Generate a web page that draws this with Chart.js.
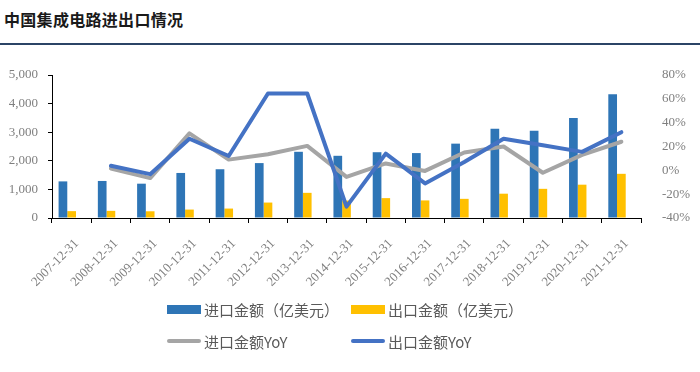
<!DOCTYPE html>
<html>
<head>
<meta charset="utf-8">
<script src="https://cdn.jsdelivr.net/npm/chart.js@4/dist/chart.umd.min.js"></script>
<style>
  body { margin: 0; background: #fff; }
  #wrap { position: relative; width: 700px; height: 372px; overflow: hidden; }
  #title { position: absolute; left: 4px; top: 7px; font: bold 16px "Noto Sans CJK SC", sans-serif; color: #1a1a1a; letter-spacing: 0.3px; }
  #rule { position: absolute; left: 0; top: 43px; width: 700px; height: 2px; background: #2b4466; }
  #chart { position: absolute; left: 0; top: 0; }
  .legend { position: absolute; display: grid; grid-template-columns: 184px auto; row-gap: 14px; left: 167px; top: 300px; font: 15px "Noto Sans CJK SC", sans-serif; color: #595959; }
  .item { display: flex; align-items: center; height: 18px; white-space: nowrap; }
  .sw { width: 34px; margin-right: 3px; }
</style>
</head>
<body>
<div id="wrap">
  <div id="title">中国集成电路进出口情况</div>
  <div id="rule"></div>
  <canvas id="chart" width="700" height="372"></canvas>
  <div class="legend" id="legend"></div>
</div>
<script>
// 数据（亿美元 / %）
const years = ["2007-12-31", "2008-12-31", "2009-12-31", "2010-12-31", "2011-12-31", "2012-12-31", "2013-12-31", "2014-12-31", "2015-12-31", "2016-12-31", "2017-12-31", "2018-12-31", "2019-12-31", "2020-12-31", "2021-12-31"];
const importAmt = [1280, 1295, 1200, 1575, 1705, 1920, 2315, 2175, 2300, 2270, 2600, 3120, 3055, 3500, 4330];
const exportAmt = [240, 250, 235, 295, 330, 540, 880, 610, 695, 615, 670, 850, 1020, 1165, 1545];
const importYoY = [null, 1.5, -6.5, 31, 9, 13.5, 20.5, -5.5, 5.8, -0.5, 15, 20, -2, 13, 24];
const exportYoY = [null, 3.8, -3.2, 26.5, 12, 64.5, 64.5, -30.5, 14, -11, 7, 26.5, 21, 15.5, 32];
const leftTicks = { min: 0, max: 5000, step: 1000 };
const rightTicks = { min: -40, max: 80, step: 20 };

const tickFont = { family: "'Liberation Serif', serif", size: 13 };
const tickColor = '#7f7f7f';

const chart = new Chart(document.getElementById('chart'), {
  type: 'bar',
  data: {
    labels: years,
    datasets: [
      { type: 'line', label: '出口金额YoY', data: exportYoY, yAxisID: 'y1', borderColor: '#4472C4', borderWidth: 4, pointRadius: 0, tension: 0, borderJoinStyle: 'round', borderCapStyle: 'round', order: 0 },
      { type: 'line', label: '进口金额YoY', data: importYoY, yAxisID: 'y1', borderColor: '#A5A5A5', borderWidth: 4, pointRadius: 0, tension: 0, borderJoinStyle: 'round', borderCapStyle: 'round', order: 1 },
      { label: '进口金额（亿美元）', data: importAmt, yAxisID: 'y', backgroundColor: '#2E75B6', order: 2 },
      { label: '出口金额（亿美元）', data: exportAmt, yAxisID: 'y', backgroundColor: '#FFC000', order: 2 },
      // empty slot, like the hidden series in the original workbook
      { label: '', data: [], yAxisID: 'y', backgroundColor: 'rgba(0,0,0,0)', order: 2 }
    ]
  },
  options: {
    responsive: false,
    animation: false,
    layout: { padding: { top: 75, left: 0, right: 0, bottom: 70 } },
    datasets: { bar: { categoryPercentage: 0.665, barPercentage: 1 } },
    plugins: { legend: { display: false }, tooltip: { enabled: false } },
    scales: {
      x: {
        offset: true,
        grid: { offset: true, drawOnChartArea: false, tickLength: 5, color: '#000' },
        border: { color: '#000' },
        ticks: { font: tickFont, color: tickColor, maxRotation: 45, minRotation: 45, autoSkip: false, padding: 13, labelOffset: 5 },
        afterFit: s => { s.height = 84; }
      },
      y: {
        position: 'left',
        min: leftTicks.min, max: leftTicks.max,
        grid: { drawOnChartArea: false, tickLength: 4, color: '#000' },
        border: { color: '#000' },
        ticks: { stepSize: leftTicks.step, font: tickFont, color: tickColor, padding: 10,
          callback: v => v.toLocaleString('en-US') },
        afterFit: s => { s.width = 52; }
      },
      y1: {
        position: 'right',
        min: rightTicks.min, max: rightTicks.max,
        grid: { display: false },
        border: { display: false },
        ticks: { stepSize: rightTicks.step, font: tickFont, color: tickColor, padding: 13,
          callback: v => v + '%' },
        afterFit: s => { s.width = 59; }
      }
    }
  }
});

// legend in two rows, same grid as the original
const legendItems = [
  { text: '进口金额（亿美元）', color: '#2E75B6', kind: 'box' },
  { text: '出口金额（亿美元）', color: '#FFC000', kind: 'box' },
  { text: '进口金额YoY', color: '#A5A5A5', kind: 'line' },
  { text: '出口金额YoY', color: '#4472C4', kind: 'line' }
];
const legendEl = document.getElementById('legend');
legendItems.forEach(it => {
  const d = document.createElement('div');
  d.className = 'item';
  const sw = document.createElement('span');
  sw.className = 'sw';
  sw.style.background = it.color;
  sw.style.height = it.kind === 'box' ? '9px' : '4px';
  if (it.kind === 'line') sw.style.borderRadius = '2px';
  d.appendChild(sw);
  d.appendChild(document.createTextNode(it.text));
  legendEl.appendChild(d);
});
</script>
</body>
</html>
